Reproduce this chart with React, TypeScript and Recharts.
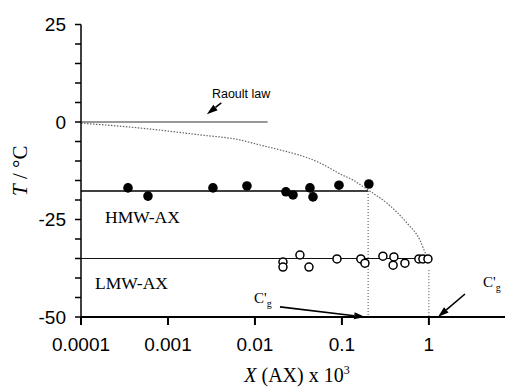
import {
  ComposedChart,
  XAxis,
  YAxis,
  Scatter,
  Line,
  ReferenceLine,
  ReferenceDot,
} from "recharts";

// axis ticks
const xTicks = [0.0001, 0.001, 0.01, 0.1, 1];
const yTicks = [-50, -45, -40, -35, -30, -25, -20, -15, -10, -5, 0, 5, 10, 15, 20, 25];

// HMW-AX measured onset temperatures (filled circles)
const hmwPoints = [
  { x: 0.000347, t: -16.9 },
  { x: 0.000589, t: -19.0 },
  { x: 0.00329, t: -16.9 },
  { x: 0.00809, t: -16.4 },
  { x: 0.0227, t: -17.9 },
  { x: 0.0274, t: -18.7 },
  { x: 0.0429, t: -16.9 },
  { x: 0.0465, t: -19.2 },
  { x: 0.0925, t: -16.2 },
  { x: 0.204, t: -15.9 },
];

// LMW-AX measured onset temperatures (open circles)
const lmwPoints = [
  { x: 0.021, t: -35.9 },
  { x: 0.021, t: -37.2 },
  { x: 0.0329, t: -34.1 },
  { x: 0.0418, t: -37.2 },
  { x: 0.0877, t: -35.1 },
  { x: 0.165, t: -35.1 },
  { x: 0.184, t: -36.2 },
  { x: 0.296, t: -34.4 },
  { x: 0.396, t: -34.6 },
  { x: 0.388, t: -36.7 },
  { x: 0.53, t: -36.2 },
  { x: 0.767, t: -35.1 },
  { x: 0.853, t: -35.1 },
  { x: 0.975, t: -35.1 },
];

// Raoult law freezing curve (dotted)
const raoultCurve = [
  { x: 0.0001, t: -0.3 },
  { x: 0.000366, t: -1.3 },
  { x: 0.00233, t: -3.3 },
  { x: 0.0067, t: -4.6 },
  { x: 0.0114, t: -5.9 },
  { x: 0.0161, t: -6.7 },
  { x: 0.0559, t: -10.5 },
  { x: 0.0949, t: -13.3 },
  { x: 0.134, t: -14.9 },
  { x: 0.199, t: -17.4 },
  { x: 0.329, t: -20.8 },
  { x: 0.559, t: -25.9 },
  { x: 0.789, t: -30.3 },
  { x: 0.91, t: -33.6 },
  { x: 0.975, t: -35 },
];

const hmwLevel = -17.7;
const hmwCg = 0.2;
const lmwLevel = -35;
const lmwCg = 1;
const raoultLineEnd = 0.014;

// annotation anchors (data coordinates)
const raoultArrow = [{ x: 0.0041, y: 4.9 }, { x: 0.0028, y: 2.0 }];
const cgLeftArrow = [{ x: 0.0194, y: -47.4 }, { x: 0.185, y: -50 }];
const cgRightArrow = [{ x: 2.6, y: -44.1 }, { x: 1.27, y: -50 }];

const serif = "'Liberation Serif', 'Times New Roman', serif";
const sans = "'Liberation Sans', Arial, sans-serif";

function Arrow(props: any) {
  const { x1, y1, x2, y2 } = props;
  const a = Math.atan2(y2 - y1, x2 - x1);
  const len = 11;
  const half = 3.5;
  const bx = x2 - len * Math.cos(a);
  const by = y2 - len * Math.sin(a);
  const px = -Math.sin(a) * half;
  const py = Math.cos(a) * half;
  return (
    <g>
      <line x1={x1} y1={y1} x2={bx} y2={by} stroke="#000" strokeWidth={1.6} />
      <polygon
        points={`${x2},${y2} ${bx + px},${by + py} ${bx - px},${by - py}`}
        fill="#000"
      />
    </g>
  );
}

const textShape = (content: React.ReactNode, font: string, size: number) =>
  (props: any) => (
    <text x={props.cx} y={props.cy} fontFamily={font} fontSize={size} fill="#000">
      {content}
    </text>
  );

const cgLabel = (
  <>
    <tspan>C'</tspan>
    <tspan dy={4} fontSize={10}>g</tspan>
  </>
);

function XLabel(props: any) {
  const vb = props.viewBox;
  return (
    <text
      x={vb.x + vb.width / 2 + 4}
      y={vb.y + vb.height - 5}
      textAnchor="middle"
      fontFamily={serif}
      fontSize={20}
      fill="#000"
    >
      <tspan fontStyle="italic">X</tspan>
      <tspan> (AX) x 10</tspan>
      <tspan dy={-8} fontSize={12}>3</tspan>
    </text>
  );
}

function YLabel(props: any) {
  const vb = props.viewBox;
  const cx = 27;
  const cy = vb.y + vb.height / 2;
  return (
    <text
      x={cx}
      y={cy}
      transform={`rotate(-90, ${cx}, ${cy})`}
      textAnchor="middle"
      fontFamily={serif}
      fontSize={21}
      fill="#000"
    >
      <tspan fontStyle="italic">T</tspan>
      <tspan> / °C</tspan>
    </text>
  );
}

const OpenDot = (props: any) => (
  <circle cx={props.cx} cy={props.cy} r={4} fill="#fff" stroke="#000" strokeWidth={1.5} />
);
const FilledDot = (props: any) => (
  <circle cx={props.cx} cy={props.cy} r={4.8} fill="#000" />
);

export default function App() {
  return (
    <div style={{ position: "absolute", left: 0, top: 0, width: 505, height: 387, background: "#fff" }}>
      <ComposedChart
        width={505}
        height={387}
        margin={{ top: 24.5, right: 0, left: 0, bottom: 0 }}
      >
        <XAxis
          dataKey="x"
          type="number"
          scale="log"
          domain={[0.0001, 7.5]}
          ticks={xTicks}
          allowDataOverflow
          tickFormatter={(v: number) => String(v)}
          tickSize={8}
          tickMargin={13}
          height={70}
          stroke="#000"
          strokeWidth={2}
          tick={{ fill: "#000", fontFamily: sans, fontSize: 19 }}
          label={(p: any) => <XLabel {...p} />}
        />
        <YAxis
          dataKey="t"
          type="number"
          domain={[-50, 25]}
          ticks={yTicks}
          interval={0}
          allowDataOverflow
          tickFormatter={(v: number) => (v % 25 === 0 ? String(v) : "")}
          tickSize={6}
          tickMargin={9}
          width={81}
          stroke="#000"
          strokeWidth={1.5}
          tick={{ fill: "#000", fontFamily: sans, fontSize: 19 }}
          label={(p: any) => <YLabel {...p} />}
        />

        {/* Raoult law horizontal reference at 0 */}
        <ReferenceLine
          segment={[{ x: 0.0001, y: 0 }, { x: raoultLineEnd, y: 0 }]}
          stroke="#333"
          strokeWidth={1.2}
        />
        {/* plateau lines */}
        <ReferenceLine
          segment={[{ x: 0.0001, y: hmwLevel }, { x: hmwCg, y: hmwLevel }]}
          stroke="#000"
          strokeWidth={1.6}
        />
        <ReferenceLine
          segment={[{ x: 0.0001, y: lmwLevel }, { x: lmwCg, y: lmwLevel }]}
          stroke="#111"
          strokeWidth={1.2}
        />
        {/* C'g drop lines */}
        <ReferenceLine
          segment={[{ x: hmwCg, y: hmwLevel }, { x: hmwCg, y: -50 }]}
          stroke="#444"
          strokeWidth={1}
          strokeDasharray="1 2"
        />
        <ReferenceLine
          segment={[{ x: lmwCg, y: -38 }, { x: lmwCg, y: -50 }]}
          stroke="#444"
          strokeWidth={1}
          strokeDasharray="1 2"
        />

        <Line
          data={raoultCurve}
          dataKey="t"
          type="monotone"
          stroke="#666"
          strokeWidth={1.2}
          strokeDasharray="1.5 1.5"
          dot={false}
          activeDot={false}
          isAnimationActive={false}
        />

        <Scatter data={hmwPoints} dataKey="t" shape={FilledDot} isAnimationActive={false} />
        <Scatter data={lmwPoints} dataKey="t" shape={OpenDot} isAnimationActive={false} />

        {/* arrows */}
        <ReferenceLine segment={raoultArrow} shape={Arrow} />
        <ReferenceLine segment={cgLeftArrow} shape={Arrow} />
        <ReferenceLine segment={cgRightArrow} shape={Arrow} />

        {/* text annotations */}
        <ReferenceDot x={0.0032} y={6.2} r={0} shape={textShape("Raoult law", sans, 12.5)} />
        <ReferenceDot x={0.000189} y={-25.9} r={0} shape={textShape("HMW-AX", serif, 17.5)} />
        <ReferenceDot x={0.000145} y={-42.8} r={0} shape={textShape("LMW-AX", serif, 17.5)} />
        <ReferenceDot x={0.00976} y={-46.4} r={0} shape={textShape(cgLabel, serif, 15)} />
        <ReferenceDot x={4.18} y={-42.3} r={0} shape={textShape(cgLabel, serif, 15)} />
      </ComposedChart>
    </div>
  );
}
